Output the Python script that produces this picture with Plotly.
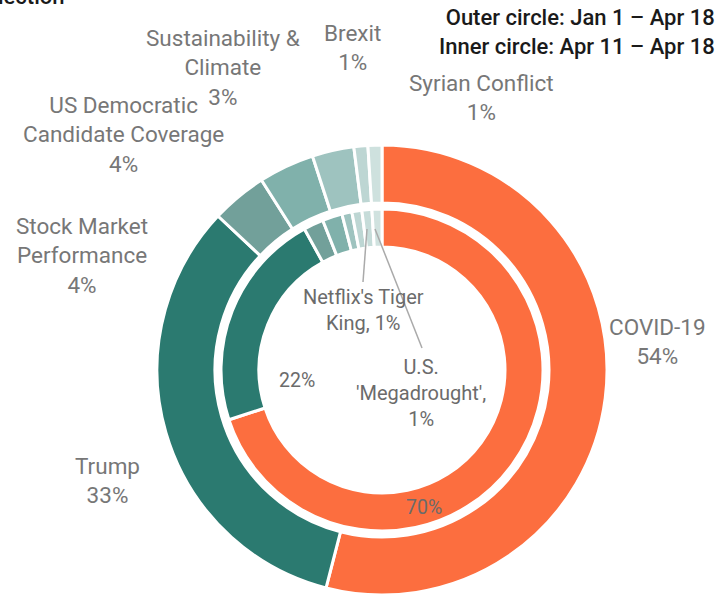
import plotly.graph_objects as go

# Outer ring: Jan 1 - Apr 18
outer_topics = ["COVID-19", "Trump", "Stock Market Performance",
                "US Democratic Candidate Coverage", "Sustainability & Climate",
                "Brexit", "Syrian Conflict"]
outer_share = [54, 33, 4, 4, 3, 1, 1]

# Inner ring: Apr 11 - Apr 18
inner_topics = ["COVID-19", "Trump", "Stock Market Performance",
                "US Democratic Candidate Coverage", "Sustainability & Climate",
                "Brexit", "Netflix's Tiger King", "U.S. 'Megadrought'"]
inner_share = [70, 22, 2, 2, 1, 1, 1, 1]

topic_colors = {
    "COVID-19": "#FC6E3F",
    "Trump": "#2B7A70",
    "Stock Market Performance": "#72A09A",
    "US Democratic Candidate Coverage": "#80B1AB",
    "Sustainability & Climate": "#9EC3BF",
    "Brexit": "#BDD6D3",
    "Syrian Conflict": "#CEE1DE",
    "Netflix's Tiger King": "#C6DCD9",
    "U.S. 'Megadrought'": "#D0E2DF",
}

W, H = 725, 598
CX, CY = 382, 370          # ring centre in page pixels
R_OUT, R_OUT_HOLE = 225, 167
R_IN, R_IN_HOLE = 161, 123


def px(x, y):
    return x / W, 1 - y / H


def domain(r):
    return dict(x=[(CX - r) / W, (CX + r) / W],
                y=[(H - CY - r) / H, (H - CY + r) / H])


fig = go.Figure()
fig.add_trace(go.Pie(
    labels=outer_topics, values=outer_share, sort=False,
    direction="clockwise", rotation=0, hole=R_OUT_HOLE / R_OUT,
    domain=domain(R_OUT), textinfo="none", hoverinfo="label+percent",
    marker=dict(colors=[topic_colors[t] for t in outer_topics],
                line=dict(color="white", width=3)),
    showlegend=False,
))
fig.add_trace(go.Pie(
    labels=inner_topics, values=inner_share, sort=False,
    direction="clockwise", rotation=0, hole=R_IN_HOLE / R_IN,
    domain=domain(R_IN), textinfo="none", hoverinfo="label+percent",
    marker=dict(colors=[topic_colors[t] for t in inner_topics],
                line=dict(color="white", width=3)),
    showlegend=False,
))

FONT = "Roboto"
annotations = []


def label(text, x, y, size=22.5, color="#777777", xanchor="center", align="center", weight=None):
    ax, ay = px(x, y)
    f = dict(family=FONT, size=size, color=color)
    if weight:
        f["weight"] = weight
    annotations.append(dict(text=text, x=ax, y=ay, xref="paper", yref="paper",
                            xanchor=xanchor, yanchor="middle", align=align,
                            showarrow=False, font=f))


# outer ring labels: name and share
outer_label_pos = {
    "COVID-19": (657, 342),
    "Trump": (107, 480),
    "Stock Market Performance": (82, 256),
    "US Democratic Candidate Coverage": (123, 135),
    "Sustainability & Climate": (223, 67),
    "Brexit": (352, 47),
    "Syrian Conflict": (481, 97),
}
outer_label_text = {
    "COVID-19": "COVID-19",
    "Trump": "Trump",
    "Stock Market Performance": "Stock Market<br>Performance",
    "US Democratic Candidate Coverage": "US Democratic<br>Candidate Coverage",
    "Sustainability & Climate": "Sustainability &<br>Climate",
    "Brexit": "Brexit",
    "Syrian Conflict": "Syrian Conflict",
}
for t, v in zip(outer_topics, outer_share):
    x, y = outer_label_pos[t]
    label(f"{outer_label_text[t]}<br>{v}%", x, y)

# inner ring labels
inner_vals = dict(zip(inner_topics, inner_share))
tiger = inner_topics[6]
drought = inner_topics[7]
label(f"{inner_vals['Trump']}%", 297, 380, size=19.5, color="#6b6b6b")
label(f"{inner_vals['COVID-19']}%", 424, 507, size=19.5, color="#6b6b6b")
label(f"Netflix's Tiger<br>King, {inner_vals[tiger]}%", 364, 310, size=20, color="#6b6b6b")
label(f"U.S.<br>'Megadrought',<br>{inner_vals[drought]}%", 421, 393, size=20, color="#6b6b6b")

# period legend
label("Outer circle: Jan 1 \u2013 Apr 18<br>Inner circle: Apr 11 \u2013 Apr 18",
      717, 32, size=22, color="#1a1a1a", xanchor="right", align="right", weight=500)

# heading running off the top-left edge
label("Share of news coverage by topic and collection", 66, -3, size=22,
      color="#1a1a1a", xanchor="right", align="right", weight=500)

# leader lines for the two small inner slices
shapes = []
for (x0, y0), (x1, y1) in [((367, 229), (363, 282)), ((375, 229), (422, 348))]:
    a0, b0 = px(x0, y0)
    a1, b1 = px(x1, y1)
    shapes.append(dict(type="line", xref="paper", yref="paper",
                       x0=a0, y0=b0, x1=a1, y1=b1,
                       line=dict(color="#aaaaaa", width=1.5)))

fig.update_layout(
    width=W, height=H,
    margin=dict(l=0, r=0, t=0, b=0),
    paper_bgcolor="white", plot_bgcolor="white",
    annotations=annotations, shapes=shapes,
    font=dict(family=FONT),
)

fig.write_html("out.html")
